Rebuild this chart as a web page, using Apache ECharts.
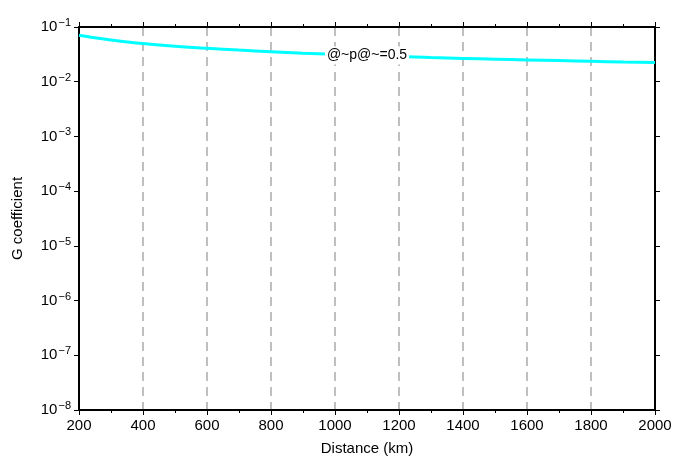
<!DOCTYPE html>
<html>
<head>
<meta charset="utf-8">
<script src="https://cdn.jsdelivr.net/npm/echarts@6/dist/echarts.min.js"></script>
<style>
  html, body { margin: 0; padding: 0; background: #fff; }
  #chart { width: 690px; height: 464px; }
</style>
</head>
<body>
<div id="chart"></div>
<script>
// distance (km) and G coefficient
var distances = [200, 300, 400, 500, 600, 700, 800, 900, 1000, 1100,
    1200, 1300, 1400, 1500, 1600, 1700, 1800, 1900, 2000];
var gValues = [0.0707, 0.0577, 0.0500, 0.0447, 0.0408, 0.0378, 0.0354, 0.0333, 0.0316, 0.0302,
    0.0289, 0.0277, 0.0267, 0.0258, 0.0250, 0.0243, 0.0236, 0.0229, 0.0224];
var curveLabel = '@~p@~=0.5';
var labelAt = [1100, 0.0302];

var font = '"Liberation Sans", Arial, sans-serif';

var myChart = echarts.init(document.getElementById('chart'));

function expLabel(v) {
    var e = Math.round(Math.log10(v));
    return '{b|10}{s|' + (e < 0 ? '\u2212' : '') + Math.abs(e) + '}';
}

var option = {
    animation: false,
    grid: { left: 79, right: 35, top: 27, bottom: 54 },
    xAxis: [
        {
            type: 'value', min: 200, max: 2000, interval: 200,
            name: 'Distance (km)', nameLocation: 'middle', nameGap: 31,
            nameTextStyle: { color: '#000', fontSize: 15, fontFamily: font },
            axisLine: { onZero: false, lineStyle: { color: '#000', width: 2 } },
            axisTick: { length: 5, lineStyle: { color: '#000' } },
            minorTick: { show: true, splitNumber: 2, length: 3, lineStyle: { color: '#000' } },
            axisLabel: { color: '#000', fontSize: 15, fontFamily: font, margin: 8,
                formatter: function (v) { return String(v); } },
            splitLine: { show: true, lineStyle: { color: '#aaa', type: [9, 6], width: 1.5 } }
        },
        {
            type: 'value', min: 200, max: 2000, interval: 200, position: 'top',
            axisLine: { onZero: false, lineStyle: { color: '#000', width: 2 } },
            axisTick: { length: 5, lineStyle: { color: '#000' } },
            minorTick: { show: true, splitNumber: 2, length: 3, lineStyle: { color: '#000' } },
            axisLabel: { show: false },
            splitLine: { show: false }
        }
    ],
    yAxis: [
        {
            type: 'log', logBase: 10, min: 1e-8, max: 1e-1, interval: 1,
            name: 'G coefficient', nameLocation: 'middle', nameGap: 54, nameRotate: 90,
            nameTextStyle: { color: '#000', fontSize: 15, fontFamily: font },
            axisLine: { onZero: false, lineStyle: { color: '#000', width: 2 } },
            axisTick: { length: 5, lineStyle: { color: '#000' } },
            axisLabel: {
                margin: 8,
                formatter: expLabel,
                rich: {
                    b: { color: '#000', fontSize: 15, fontFamily: font },
                    s: { color: '#000', fontSize: 11, fontFamily: font, padding: [0, 0, 8, 1] }
                }
            },
            splitLine: { show: false }
        },
        {
            type: 'log', logBase: 10, min: 1e-8, max: 1e-1, interval: 1, position: 'right',
            axisLine: { onZero: false, lineStyle: { color: '#000', width: 2 } },
            axisTick: { length: 5, lineStyle: { color: '#000' } },
            axisLabel: { show: false },
            splitLine: { show: false }
        }
    ],
    series: [
        {
            type: 'line',
            data: distances.map(function (d, i) { return [d, gValues[i]]; }),
            showSymbol: false,
            smooth: true,
            lineStyle: { color: '#00ffff', width: 3 },
            markPoint: {
                symbol: 'rect', symbolSize: 0,
                data: [{ coord: labelAt }],
                label: {
                    show: true, position: 'inside',
                    formatter: curveLabel,
                    color: '#000', fontSize: 14, fontFamily: font,
                    backgroundColor: '#fff', padding: [2, 2, 2, 2]
                }
            }
        }
    ]
};
myChart.setOption(option);
</script>
</body>
</html>
